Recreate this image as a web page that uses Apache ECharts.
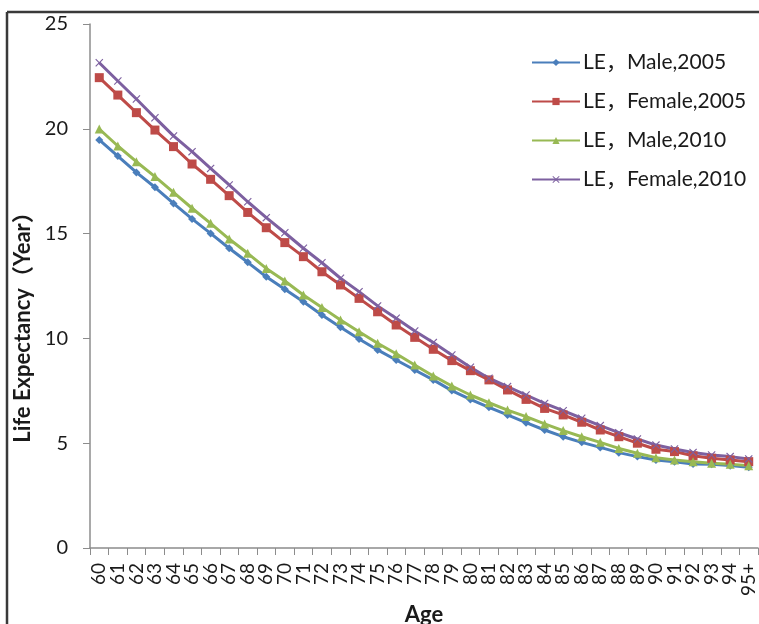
<!DOCTYPE html>
<html>
<head>
<meta charset="utf-8">
<script src="https://cdn.jsdelivr.net/npm/echarts@6/dist/echarts.min.js"></script>
<style>
  html, body { margin: 0; padding: 0; background: #ffffff; }
  #chart { width: 759px; height: 624px; }
</style>
</head>
<body>
<div id="chart"></div>
<script>
// Age groups on the horizontal axis
const ages = ['60','61','62','63','64','65','66','67','68','69','70','71','72','73','74','75','76','77',
              '78','79','80','81','82','83','84','85','86','87','88','89','90','91','92','93','94','95+'];

// Remaining life expectancy (years) at each age
const maleLE2005 = [19.47,18.70,17.92,17.21,16.44,15.70,15.01,14.30,13.63,12.94,12.34,11.75,11.12,10.53,9.97,9.45,8.97,8.49,
                    8.02,7.51,7.09,6.71,6.35,5.98,5.63,5.31,5.04,4.80,4.55,4.36,4.20,4.12,4.01,3.99,3.93,3.85];
const femaleLE2005 = [22.44,21.61,20.77,19.94,19.15,18.32,17.59,16.81,16.01,15.28,14.57,13.90,13.18,12.55,11.91,11.27,10.64,10.05,
                      9.48,8.94,8.46,8.02,7.54,7.09,6.66,6.35,6.00,5.63,5.31,5.00,4.71,4.60,4.40,4.28,4.20,4.12];
const maleLE2010 = [19.99,19.18,18.43,17.72,16.97,16.21,15.49,14.74,14.06,13.34,12.74,12.07,11.48,10.88,10.32,9.77,9.27,8.73,
                    8.21,7.73,7.30,6.93,6.58,6.27,5.92,5.60,5.31,5.04,4.75,4.52,4.31,4.20,4.12,4.04,3.99,3.93];
const femaleLE2010 = [23.15,22.28,21.42,20.53,19.66,18.91,18.11,17.32,16.52,15.76,15.04,14.30,13.61,12.87,12.23,11.55,10.96,10.35,
                      9.80,9.21,8.62,8.10,7.70,7.30,6.90,6.55,6.19,5.84,5.50,5.20,4.91,4.72,4.56,4.44,4.36,4.25];

const seriesNames = ['LE，Male,2005', 'LE，Female,2005', 'LE，Male,2010', 'LE，Female,2010'];

const FONT = 'Lato, "Noto Sans CJK SC", sans-serif';
const crossSymbol = 'path://M0,1 L1,0 L5,4 L9,0 L10,1 L6,5 L10,9 L9,10 L5,6 L1,10 L0,9 L4,5 Z';

function lineSeries(name, data, color, symbol, size) {
  return {
    name: name,
    type: 'line',
    data: data,
    symbol: symbol,
    symbolSize: size,
    showAllSymbol: true,
    lineStyle: { color: color, width: 3 },
    itemStyle: { color: color },
    emphasis: { disabled: true },
    animation: false
  };
}

const chart = echarts.init(document.getElementById('chart'), null, { renderer: 'canvas' });

chart.setOption({
  backgroundColor: '#ffffff',
  textStyle: { fontFamily: FONT },
  grid: { left: 90, right: 1, top: 24, bottom: 76, containLabel: false, outerBoundsMode: 'none' },
  legend: {
    orient: 'vertical',
    left: 526,
    top: 47,
    itemWidth: 48,
    itemHeight: 9,
    itemGap: 18,
    textStyle: { fontFamily: FONT, fontSize: 21, color: '#1a1a1a', padding: [0, 0, 0, -2] },
    data: seriesNames
  },
  xAxis: {
    type: 'category',
    data: ages,
    boundaryGap: true,
    name: 'Age',
    nameLocation: 'middle',
    nameGap: 52,
    nameTextStyle: { fontFamily: FONT, fontSize: 22, fontWeight: 'bold', color: '#1a1a1a' },
    axisLine: { lineStyle: { color: '#8c8c8c', width: 1.5 } },
    axisTick: { show: true, length: 7, alignWithLabel: false, lineStyle: { color: '#8c8c8c' } },
    axisLabel: { rotate: 90, interval: 0, margin: 15, fontSize: 19, color: '#1a1a1a', fontFamily: FONT },
    splitLine: { show: false }
  },
  yAxis: {
    type: 'value',
    min: 0,
    max: 25,
    interval: 5,
    name: 'Life Expectancy（Year）',
    nameLocation: 'middle',
    nameGap: 51,
    nameTextStyle: { fontFamily: FONT, fontSize: 22, fontWeight: 'bold', color: '#1a1a1a', padding: [0, 72, 0, 0] },
    axisLine: { show: true, lineStyle: { color: '#8c8c8c', width: 1.5 } },
    axisTick: { show: true, length: 7, lineStyle: { color: '#8c8c8c' } },
    axisLabel: { margin: 22, fontSize: 20, color: '#1a1a1a', fontFamily: FONT },
    splitLine: { show: false }
  },
  series: [
    lineSeries(seriesNames[0], maleLE2005, '#4a7ebb', 'diamond', 8),
    lineSeries(seriesNames[1], femaleLE2005, '#be4b48', 'rect', 9),
    lineSeries(seriesNames[2], maleLE2010, '#98b954', 'triangle', 9),
    lineSeries(seriesNames[3], femaleLE2010, '#7d60a0', crossSymbol, 8)
  ],
  graphic: [
    { type: 'line', silent: true, shape: { x1: 7, y1: 12, x2: 7, y2: 624 }, style: { stroke: '#3a3a3a', lineWidth: 2.5 } },
    { type: 'line', silent: true, shape: { x1: 7, y1: 12, x2: 759, y2: 12 }, style: { stroke: '#3a3a3a', lineWidth: 2.5 } }
  ]
});
</script>
</body>
</html>
